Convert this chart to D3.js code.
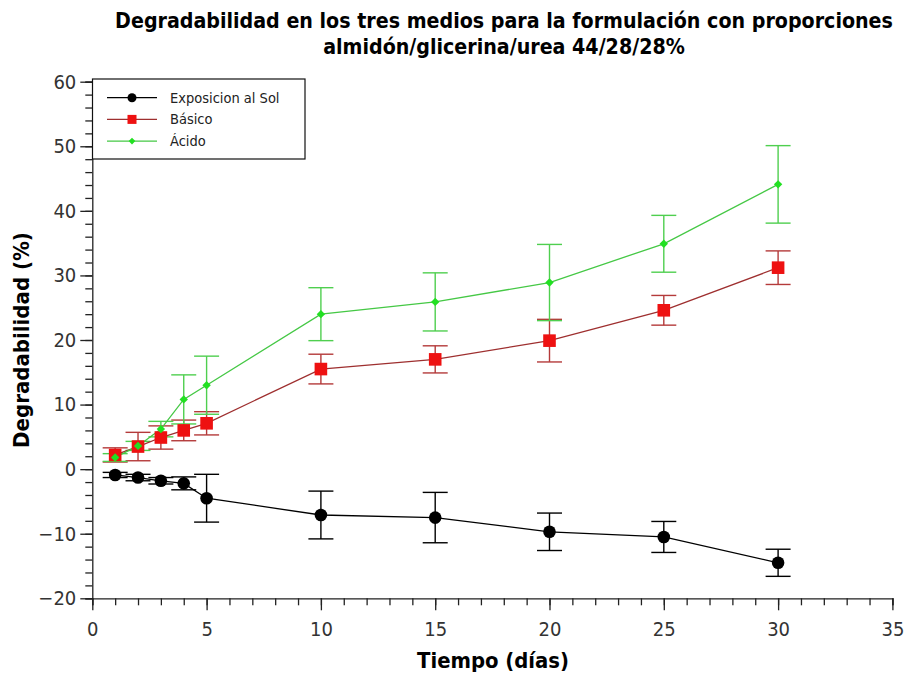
<!DOCTYPE html>
<html>
<head>
<meta charset="utf-8">
<script src="https://cdn.jsdelivr.net/npm/d3@7"></script>
<style>
    body { margin: 0; background: white; }
    svg { display: block; }
</style>
</head>
<body>
<svg id="chart" width="905" height="675"></svg>
<script>
const days = [1, 2, 3, 4, 5, 10, 15, 20, 25, 30];

const sol = [-0.9, -1.3, -1.8, -2.2, -4.5, -7.1, -7.5, -9.7, -10.5, -14.5];
const solErr = [0.4, 0.5, 0.5, 1.0, 3.7, 3.7, 3.9, 2.9, 2.4, 2.1];

const basico = [2.2, 3.5, 4.9, 6.0, 7.1, 15.5, 17.0, 19.9, 24.6, 31.2];
const basicoErr = [1.1, 2.2, 1.8, 1.6, 1.8, 2.3, 2.1, 3.3, 2.3, 2.6];

const acido = [1.8, 3.6, 6.2, 10.8, 13.0, 24.0, 25.9, 28.9, 34.9, 44.1];
const acidoErr = [0.6, 0.7, 1.2, 3.8, 4.5, 4.1, 4.5, 5.9, 4.4, 6.0];

const seriesNames = ["Exposicion al Sol", "Básico", "Ácido"];
const xTicks = [0, 5, 10, 15, 20, 25, 30, 35];
const yTicks = [-20, -10, 0, 10, 20, 30, 40, 50, 60];

const titleLines = [
    "Degradabilidad en los tres medios para la formulación con proporciones",
    "almidón/glicerina/urea 44/28/28%"
];
const xLabel = "Tiempo (días)";
const yLabel = "Degradabilidad (%)";

const FONT = '"DejaVu Sans Condensed", "DejaVu Sans", sans-serif';

const svg = d3.select("#chart");

const x = d3.scaleLinear().domain([0, 35]).range([92.3, 892.4]);
const y = d3.scaleLinear().domain([-20, 60]).range([598.3, 81.7]);

// styles per series
const styles = [
    { line: "#000000", bar: "#000000", fill: "#000000", shape: "circle", size: 6.3, barWidth: 1.4 },
    { line: "#9e2f2f", bar: "#b43a3a", fill: "#ee1111", shape: "square", size: 6.3, barWidth: 1.4 },
    { line: "#45c845", bar: "#4fcf4f", fill: "#22e022", shape: "diamond", size: 4.2, barWidth: 1.4 }
];

const series = [
    { name: seriesNames[0], values: sol, errors: solErr },
    { name: seriesNames[1], values: basico, errors: basicoErr },
    { name: seriesNames[2], values: acido, errors: acidoErr }
].map((s, i) => ({ ...s, style: styles[i], points: days.map((d, j) => ({ d, v: s.values[j], e: s.errors[j] })) }));

// ---- axes
const xAxis = svg.append("g").attr("transform", "translate(0," + y(-20) + ")");
xAxis.call(d3.axisBottom(x).tickValues(d3.range(0, 36, 1)).tickSize(7).tickFormat(""));
xAxis.append("g").call(d3.axisBottom(x).tickValues(xTicks).tickSize(12).tickPadding(12));

const yAxis = svg.append("g").attr("transform", "translate(" + x(0) + ",0)");
yAxis.call(d3.axisLeft(y).tickValues(d3.range(-20, 61, 2)).tickSize(7).tickFormat(""));
yAxis.append("g").call(d3.axisLeft(y).tickValues(yTicks).tickSize(12).tickPadding(4));

svg.selectAll(".domain").filter((d, i, n) => n[i].parentNode.parentNode !== svg.node()).remove();
svg.selectAll(".tick line").attr("stroke", "#222").attr("stroke-width", 1.3);
svg.selectAll(".domain").attr("stroke", "#222").attr("stroke-width", 1.3);
svg.selectAll(".tick text")
    .attr("font-family", FONT)
    .attr("font-size", 20)
    .attr("fill", "#333");

// ---- error bars, lines, markers
const line = d3.line().x(p => x(p.d)).y(p => y(p.v));
const capHalf = 12.5;

const plot = svg.append("g");

series.forEach(s => {
    const g = plot.append("g");
    const bars = g.selectAll(".err").data(s.points).join("g")
        .attr("stroke", s.style.bar)
        .attr("stroke-width", s.style.barWidth);
    bars.append("line")
        .attr("x1", p => x(p.d)).attr("x2", p => x(p.d))
        .attr("y1", p => y(p.v - p.e)).attr("y2", p => y(p.v + p.e));
    bars.append("line")
        .attr("x1", p => x(p.d) - capHalf).attr("x2", p => x(p.d) + capHalf)
        .attr("y1", p => y(p.v + p.e)).attr("y2", p => y(p.v + p.e));
    bars.append("line")
        .attr("x1", p => x(p.d) - capHalf).attr("x2", p => x(p.d) + capHalf)
        .attr("y1", p => y(p.v - p.e)).attr("y2", p => y(p.v - p.e));
});

series.forEach(s => {
    plot.append("path")
        .datum(s.points)
        .attr("d", line)
        .attr("fill", "none")
        .attr("stroke", s.style.line)
        .attr("stroke-width", 1.3);
});

function drawMarker(g, style, cx, cy, r) {
    if (style.shape === "circle") {
        g.append("circle").attr("cx", cx).attr("cy", cy).attr("r", r).attr("fill", style.fill);
    } else if (style.shape === "square") {
        g.append("rect").attr("x", cx - r).attr("y", cy - r)
            .attr("width", 2 * r).attr("height", 2 * r).attr("fill", style.fill);
    } else {
        g.append("path")
            .attr("d", `M${cx},${cy - r}L${cx + r},${cy}L${cx},${cy + r}L${cx - r},${cy}Z`)
            .attr("fill", style.fill);
    }
}

series.forEach(s => {
    const g = plot.append("g");
    s.points.forEach(p => drawMarker(g, s.style, x(p.d), y(p.v), s.style.size));
});

// ---- legend
const legend = svg.append("g");
legend.append("rect")
    .attr("x", 92.5).attr("y", 79).attr("width", 212.5).attr("height", 80)
    .attr("fill", "white").attr("stroke", "#111").attr("stroke-width", 1.2);

series.forEach((s, i) => {
    const ly = 97.7 + i * 21.7;
    legend.append("line")
        .attr("x1", 107).attr("x2", 157).attr("y1", ly).attr("y2", ly)
        .attr("stroke", s.style.line).attr("stroke-width", 1.3);
    drawMarker(legend, s.style, 132, ly, s.style.shape === "diamond" ? 3.3 : 4.5);
    legend.append("text")
        .attr("x", 170).attr("y", ly + 5)
        .attr("font-family", FONT).attr("font-size", 14.5).attr("fill", "#222")
        .text(s.name);
});

// ---- titles: size text so it spans the same width as in the picture
function fitText(sel, width) {
    const w = sel.node().getComputedTextLength();
    const fs = +sel.attr("font-size");
    sel.attr("font-size", (fs * width / w).toFixed(2));
}

const title = svg.append("g")
    .attr("font-family", FONT).attr("font-weight", "bold").attr("fill", "#000")
    .attr("text-anchor", "middle");
const t1 = title.append("text")
    .attr("x", 504).attr("y", 28)
    .attr("font-size", 19)
    .text(titleLines[0]);
fitText(t1, 778);
title.append("text")
    .attr("x", 504).attr("y", 54)
    .attr("font-size", t1.attr("font-size"))
    .text(titleLines[1]);

const xl = svg.append("text")
    .attr("x", 493).attr("y", 668)
    .attr("text-anchor", "middle")
    .attr("font-family", FONT).attr("font-weight", "bold").attr("font-size", 19)
    .text(xLabel);
fitText(xl, 152);

const yl = svg.append("text")
    .attr("transform", "translate(29,340) rotate(-90)")
    .attr("text-anchor", "middle")
    .attr("font-family", FONT).attr("font-weight", "bold").attr("font-size", 19)
    .text(yLabel);
fitText(yl, 216);
</script>
</body>
</html>
